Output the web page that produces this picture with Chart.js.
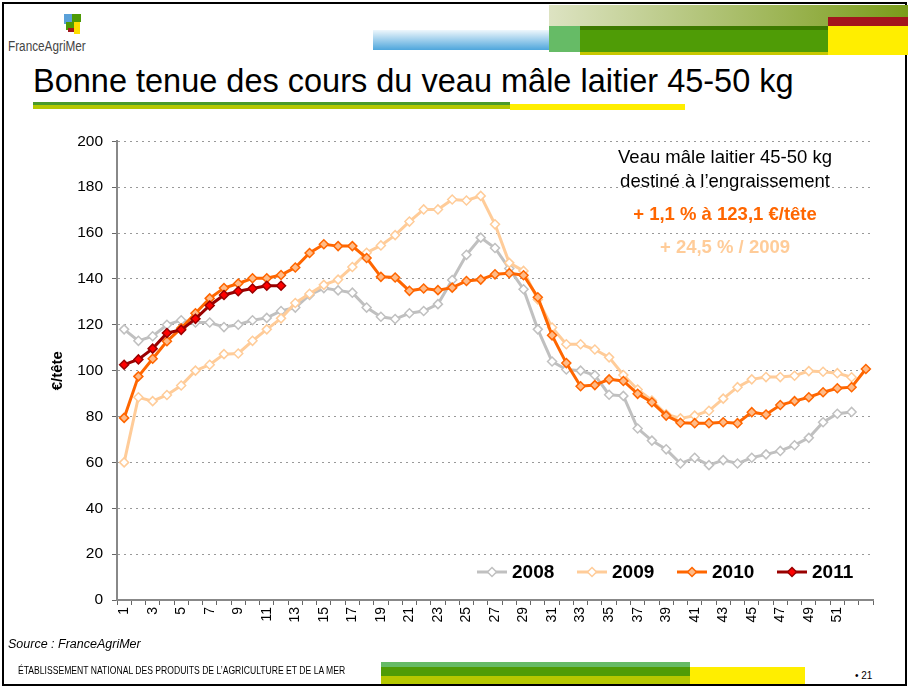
<!DOCTYPE html>
<html>
<head>
<meta charset="utf-8">
<script src="https://cdn.jsdelivr.net/npm/chart.js@4.4.1/dist/chart.umd.min.js"></script>
<style>
body{margin:0;background:#fff;font-family:"Liberation Sans",Arial,sans-serif;}
#slide{position:relative;width:908px;height:688px;overflow:hidden;background:#fff;}
.abs{position:absolute;}
#frame{left:2px;top:2px;width:901px;height:680px;border:2px solid #000;}
.note{position:absolute;left:575px;width:300px;text-align:center;font-size:18.5px;white-space:nowrap;}
.narrow{transform-origin:0 0;white-space:nowrap;}
</style>
</head>
<body>
<div id="slide">
  <div class="abs" id="frame"></div>

  <!-- header bars -->
  <div class="abs" style="left:373px;top:30px;width:176px;height:20px;background:linear-gradient(#eef7fc,#4ea6dc);"></div>
  <div class="abs" style="left:549px;top:5px;width:359px;height:21px;background:linear-gradient(90deg,#dde3c2,#7a9c1a);"></div>
  <div class="abs" style="left:549px;top:26px;width:31px;height:26px;background:#66bb66;"></div>
  <div class="abs" style="left:580px;top:26px;width:248px;height:29px;background:linear-gradient(#3d7a00 0,#3d7a00 4px,#4f9c06 4px,#4f9c06 26px,#c8c800 26px);"></div>
  <div class="abs" style="left:828px;top:17px;width:80px;height:9px;background:#a3151d;"></div>
  <div class="abs" style="left:828px;top:26px;width:80px;height:29px;background:#ffee00;"></div>

  <!-- logo -->
  <div class="abs" style="left:64px;top:14px;width:8px;height:10px;background:#5aa0d8;"></div>
  <div class="abs" style="left:72px;top:14px;width:9px;height:8px;background:#4e9a06;"></div>
  <div class="abs" style="left:66px;top:22px;width:8px;height:8px;background:#4e9a06;"></div>
  <div class="abs" style="left:74px;top:22px;width:6px;height:12px;background:#ffdd00;"></div>
  <div class="abs" style="left:68px;top:28px;width:6px;height:4px;background:#a3151d;"></div>
  <div class="abs narrow" style="left:8px;top:38px;font-size:14px;color:#444;transform:scaleX(0.84);">FranceAgriMer</div>

  <!-- title -->
  <div class="abs" style="left:33px;top:63px;font-size:32.5px;color:#000;white-space:nowrap;">Bonne tenue des cours du veau mâle laitier 45-50 kg</div>
  <div class="abs" style="left:33px;top:102px;width:477px;height:7px;background:linear-gradient(#4a9a2a,#4a9a2a 3px,#b5c800 3px);"></div>
  <div class="abs" style="left:510px;top:104px;width:175px;height:6px;background:#ffee00;"></div>

  <!-- chart -->
  <canvas id="chart" class="abs" style="left:0;top:123px;" width="900" height="522"></canvas>

  <!-- notes -->
  <div class="note" style="top:146px;color:#000;">Veau mâle laitier 45-50 kg</div>
  <div class="note" style="top:170px;color:#000;">destiné à l’engraissement</div>
  <div class="note" style="top:203px;color:#ff6600;font-weight:bold;">+ 1,1 % à 123,1 €/tête</div>
  <div class="note" style="top:236px;color:#ffcc99;font-weight:bold;">+ 24,5 % / 2009</div>

  <!-- footer -->
  <div class="abs" style="left:8px;top:637px;font-size:12.5px;font-style:italic;">Source : FranceAgriMer</div>
  <div class="abs narrow" style="left:18px;top:665px;font-size:10px;color:#000;transform:scaleX(0.86);">ÉTABLISSEMENT NATIONAL DES PRODUITS DE L’AGRICULTURE ET DE LA MER</div>
  <div class="abs" style="left:381px;top:662px;width:309px;height:22px;background:linear-gradient(#66bb66 0,#66bb66 5px,#4f9c06 5px,#4f9c06 14px,#b5c800 14px);"></div>
  <div class="abs" style="left:690px;top:667px;width:115px;height:17px;background:#ffee00;"></div>
  <div class="abs" style="left:855px;top:670px;font-size:10px;">• 21</div>
</div>

<script>
const weeks = [];
for (let w = 1; w <= 53; w++) weeks.push(String(w));

const yTicks = [0, 20, 40, 60, 80, 100, 120, 140, 160, 180, 200];

const years = ["2008", "2009", "2010", "2011"];

const v2008 = [118, 113, 115, 120, 122, 121, 121, 119, 120, 122, 123, 126, 127.5, 133, 136, 135, 134, 127.5, 123.5, 122.5,
  125, 126, 129, 139.5, 150.5, 158, 153.5, 144.5, 135.5, 118, 104, 100.5, 100, 98, 89.5, 89, 74.8, 69.5, 65.7, 59.5,
  62, 58.8, 61, 59.5, 62, 63.5, 65, 67.5, 70.7, 77.5, 81.2, 82];

const v2009 = [60, 88.4, 86.7, 89.4, 93.5, 100, 102.6, 107.2, 107.5, 113, 118, 122.8, 129.5, 133.5, 137.4, 139.7, 145.2, 151.4, 154.6, 159.1,
  165, 170.3, 170.3, 174.6, 174.2, 176.2, 163.8, 147, 143.5, 131, 118.8, 111.5, 111.5, 109.2, 105.8, 98.1, 91.8, 87, 81, 79.2,
  80.4, 82.5, 87.8, 92.8, 96.2, 97.2, 97.2, 97.8, 99.8, 99.5, 98.9, 97.1];

const v2010 = [79.4, 97.5, 105.2, 112.8, 118.5, 125, 131.5, 136, 138, 140.3, 140.3, 141.7, 145, 151.3, 155.1, 154.3, 154.3, 149.1, 140.9, 140.6,
  134.8, 135.8, 135.1, 136.2, 139.1, 139.7, 142, 142.5, 141.6, 132, 115.4, 103.3, 93.2, 93.7, 96.2, 95.5, 89.9, 86.2, 80.4, 77.3,
  77.1, 77.1, 77.5, 77.1, 81.9, 80.9, 85, 86.7, 88.4, 90.6, 92.3, 92.8, 100.7];

const v2011 = [102.6, 104.9, 109.6, 116.4, 117.8, 122.6, 128.4, 133, 134.6, 135.8, 137, 137];

const lineColors = ["#c0c0c0", "#ffcc99", "#ff6600", "#990000"];
const markFill = ["#ffffff", "#ffffff", "#ffbb88", "#ff0000"];
const markLine = ["#c0c0c0", "#ffcc99", "#ff6600", "#990000"];

const FONT = "'Liberation Sans', Arial, sans-serif";

function diamond(ctx, x, y, r, fill, stroke) {
  ctx.beginPath();
  ctx.moveTo(x, y - r); ctx.lineTo(x + r, y); ctx.lineTo(x, y + r); ctx.lineTo(x - r, y);
  ctx.closePath();
  ctx.fillStyle = fill; ctx.fill();
  ctx.lineWidth = 1.5; ctx.strokeStyle = stroke; ctx.stroke();
}

// legend drawn as line + marker, like the original
const lineLegend = {
  id: "lineLegend",
  afterDraw(chart) {
    const ctx = chart.ctx;
    const y = chart.chartArea.bottom - 28;
    let x = chart.chartArea.left + 360;
    ctx.save();
    chart.data.datasets.forEach((ds, i) => {
      ctx.strokeStyle = ds.borderColor;
      ctx.lineWidth = 3;
      ctx.beginPath(); ctx.moveTo(x, y); ctx.lineTo(x + 30, y); ctx.stroke();
      diamond(ctx, x + 15, y, 4.5, ds.pointBackgroundColor, ds.pointBorderColor);
      ctx.fillStyle = "#000";
      ctx.font = "bold 19px " + FONT;
      ctx.textBaseline = "middle";
      ctx.fillText(ds.label, x + 35, y + 1);
      x += 100;
    });
    ctx.restore();
  }
};

const series = [v2008, v2009, v2010, v2011];

new Chart(document.getElementById("chart"), {
  type: "line",
  data: {
    labels: weeks,
    datasets: series.map((vals, i) => ({
      label: years[i],
      data: vals,
      borderColor: lineColors[i],
      borderWidth: 3,
      pointStyle: "rectRot",
      pointRadius: 4.5,
      pointBorderWidth: 1.5,
      pointBackgroundColor: markFill[i],
      pointBorderColor: markLine[i],
      tension: 0,
      order: 4 - i
    }))
  },
  options: {
    responsive: false,
    animation: false,
    devicePixelRatio: 1,
    layout: { padding: { top: 3, right: 27, left: 0, bottom: 0 } },
    plugins: { legend: { display: false }, tooltip: { enabled: false } },
    scales: {
      x: {
        type: "category",
        offset: true,
        afterFit: s => { s.height = 45; },
        grid: { drawOnChartArea: false, drawTicks: true, tickLength: 5, tickColor: "#666", offset: true },
        border: { color: "#888", width: 2 },
        ticks: {
          autoSkip: false, maxRotation: 90, minRotation: 90, padding: 2,
          color: "#000", font: { family: FONT, size: 14 },
          callback: function (v, i) { const w = i + 1; return (w % 2 === 1 && w <= 51) ? String(w) : ""; }
        }
      },
      y: {
        min: 0, max: 200,
        afterFit: s => { s.width = 117; },
        afterBuildTicks: s => { s.ticks = yTicks.map(v => ({ value: v })); },
        grid: { color: "#999", lineWidth: 1, tickLength: 5, tickColor: "#666", tickBorderDash: [] },
        border: { color: "#888", width: 2, dash: [2, 4] },
        ticks: { color: "#000", padding: 9, font: { family: FONT, size: 15.5 } },
        title: { display: true, text: "€/tête", color: "#000", font: { family: FONT, size: 15, weight: "bold" }, padding: { top: 49 } }
      }
    }
  },
  plugins: [lineLegend]
});
</script>
</body>
</html>
